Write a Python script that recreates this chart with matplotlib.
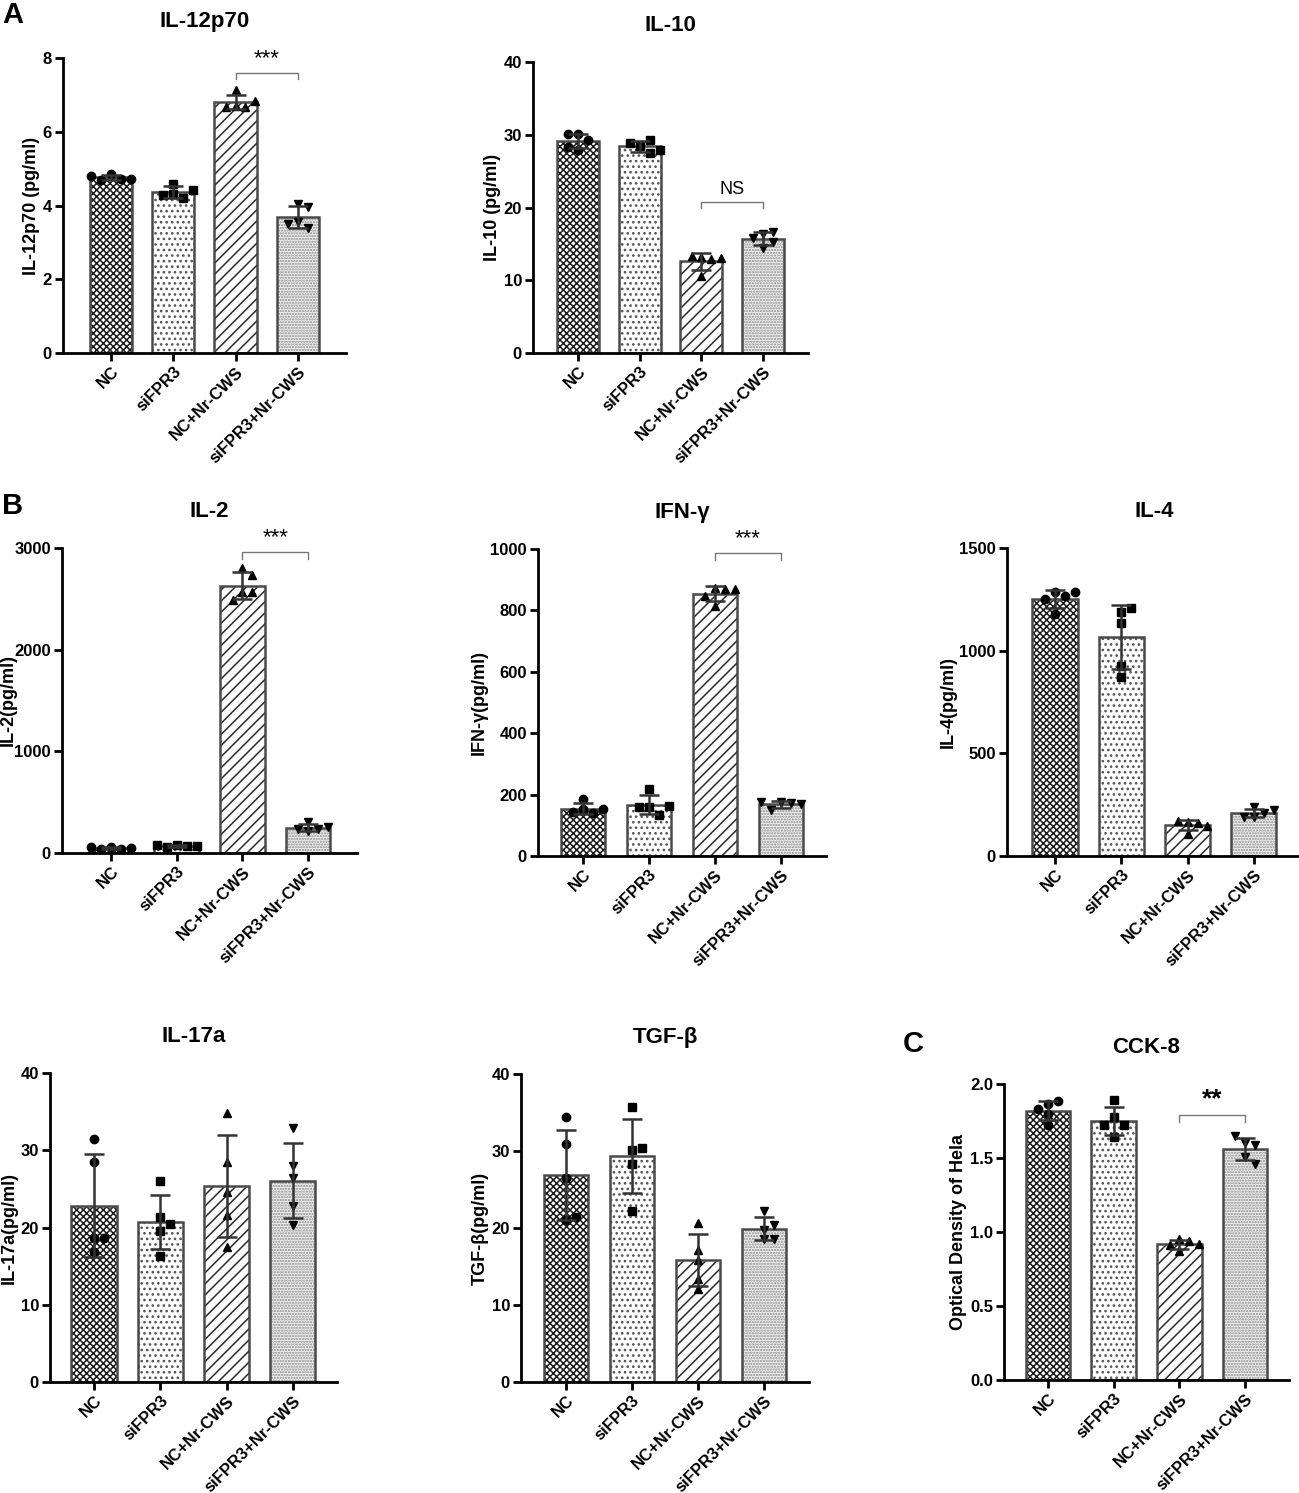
import matplotlib
matplotlib.use('Agg')
import matplotlib.pyplot as plt
from matplotlib.ticker import FormatStrFormatter
import numpy as np

plt.rcParams['font.family'] = ['Liberation Sans', 'DejaVu Sans']
plt.rcParams['font.weight'] = 'bold'
plt.rcParams['axes.labelweight'] = 'bold'
plt.rcParams['hatch.linewidth'] = 1.1

# groups
groups = ['NC', 'siFPR3', 'NC+Nr-CWS', 'siFPR3+Nr-CWS']

# individual points per group
il12p70 = [[4.86, 4.73, 4.70, 4.73, 4.81],
           [4.32, 4.20, 4.59, 4.29, 4.43],
           [6.71, 6.67, 7.12, 6.67, 6.84],
           [4.05, 3.95, 3.55, 3.40, 3.50]]
il10 = [[30.1, 29.3, 27.9, 28.3, 30.1],
        [28.5, 29.3, 28.9, 27.5, 27.9],
        [13.2, 12.9, 13.3, 13.0, 10.6],
        [16.4, 16.6, 14.4, 15.3, 15.8]]
il2 = [[55, 40, 35, 45, 55],
       [75, 65, 60, 65, 75],
       [2803, 2738, 2564, 2564, 2485],
       [302, 236, 213, 236, 252]]
ifng = [[152, 139, 185, 144, 152],
        [161, 134, 217, 161, 163],
        [872, 869, 847, 814, 869],
        [177, 172, 150, 169, 177]]
il4 = [[1286, 1264, 1253, 1286, 1180],
       [1186, 1208, 1134, 923, 874],
       [168, 160, 107, 172, 148],
       [237, 211, 189, 189, 224]]
il17a = [[31.4, 28.5, 18.7, 18.7, 16.8],
         [26.0, 21.3, 20.5, 19.5, 16.3],
         [34.8, 28.5, 24.6, 21.6, 17.5],
         [32.9, 27.9, 26.4, 22.8, 20.3]]
tgfb = [[34.4, 30.9, 26.5, 21.0, 21.4],
        [35.7, 30.1, 30.4, 28.3, 22.2],
        [20.7, 17.2, 15.9, 13.4, 12.1],
        [22.2, 19.8, 20.4, 18.6, 18.6]]
cck8 = [[1.865, 1.885, 1.83, 1.80, 1.72],
        [1.89, 1.78, 1.72, 1.72, 1.64],
        [0.95, 0.94, 0.91, 0.87, 0.92],
        [1.60, 1.59, 1.65, 1.51, 1.46]]

W, H = 1299, 1493
fig = plt.figure(figsize=(W / 100, H / 100), dpi=100)

markers = ['o', 's', '^', 'v']
# (hatch, hatch colour, face colour)
fills = [('xxxxx', '#1a1a1a', 'white'),
         ('...', '#555555', 'white'),
         ('///', '#2a2a2a', 'white'),
         ('......', '#8c8c8c', '#f0f0f0')]


def swarm_x(ax, i, vals, dist_px):
    # spread points sideways when they would overlap
    px_per_unit = ax.transData.transform((1, 0))[0] - ax.transData.transform((0, 0))[0]
    dx = dist_px * 1.1 / px_per_unit
    placed, xs = [], []
    for v in vals:
        for k in [0, 1, -1, 2, -2, 3, -3]:
            x = i + k * dx
            p = ax.transData.transform((x, v))
            if all(np.hypot(*(p - q)) >= dist_px for q in placed):
                break
        placed.append(p)
        xs.append(x)
    return xs


def panel(L, c0, s, ytop, y0, data, ymax, step, title, ylabel, fmt=None, sig=None, ylab_px=None):
    pad = (c0 - L) / s
    w = 3 * s + 2 * (c0 - L)
    ax = fig.add_axes([L / W, 1 - y0 / H, w / W, (y0 - ytop) / H])
    ax.set_xlim(-pad, 3 + pad)
    ax.set_ylim(0, ymax)
    means = [np.mean(d) for d in data]
    sds = [np.std(d, ddof=1) for d in data]
    for i, m in enumerate(means):
        h, hc, fc = fills[i]
        ax.bar(i, m, width=0.68, color=fc, hatch=h, edgecolor=hc, linewidth=0, zorder=1)
        ax.bar(i, m, width=0.68, fill=False, edgecolor='#4a4a4a', linewidth=1.8, zorder=2)
        xs = swarm_x(ax, i, data[i], 9)
        ax.plot(xs, data[i], ls='none', marker=markers[i], ms=6, color='black', zorder=3,
                clip_on=False)
        ax.errorbar(i, m, yerr=sds[i], fmt='none', ecolor='#333333', elinewidth=1.8,
                    capsize=7.5, capthick=1.8, zorder=4)
    for sp in ['top', 'right']:
        ax.spines[sp].set_visible(False)
    for sp in ['left', 'bottom']:
        ax.spines[sp].set_linewidth(2)
    ax.set_yticks(np.arange(0, ymax + step / 2, step))
    if fmt:
        ax.yaxis.set_major_formatter(FormatStrFormatter(fmt))
    ax.set_xticks(range(4))
    ax.set_xticklabels(groups, rotation=45, ha='right', rotation_mode='anchor')
    ax.tick_params(axis='both', direction='out', length=6, width=2, labelsize=12, pad=2)
    ax.set_ylabel(ylabel, fontsize=13, labelpad=2)
    if ylab_px is not None:
        ax.yaxis.set_label_coords((ylab_px - L) / w, 0.5)
    ax.set_title(title, fontsize=16, fontweight='bold', pad=22)
    if sig:
        text, frac, size, wt = sig
        yb = frac * ymax
        d = 0.022 * ymax
        ax.plot([2, 2, 3, 3], [yb - d, yb, yb, yb - d], color='#777777', lw=1, clip_on=False)
        ax.text(2.5, yb + 0.012 * ymax, text, ha='center', va='bottom', fontsize=size,
                fontweight=wt, clip_on=False)
    return ax


panel(63, 111, 62.3, 58, 353, il12p70, 8, 2, 'IL-12p70', 'IL-12p70 (pg/ml)',
      sig=('***', 0.95, 16, 'normal'))
panel(533, 578, 61.7, 62, 353, il10, 40, 10, 'IL-10', 'IL-10 (pg/ml)',
      sig=('NS', 0.52, 13, 'normal'))
panel(62, 111, 65.7, 548, 853, il2, 3000, 1000, 'IL-2', 'IL-2(pg/ml)',
      sig=('***', 0.986, 16, 'normal'), ylab_px=17)
panel(538, 583, 66, 549, 856, ifng, 1000, 200, 'IFN-γ', 'IFN-γ(pg/ml)',
      sig=('***', 0.986, 16, 'normal'))
panel(1007, 1055, 66.3, 548, 856, il4, 1500, 500, 'IL-4', 'IL-4(pg/ml)')
panel(50, 94, 66.3, 1073, 1382, il17a, 40, 10, 'IL-17a', 'IL-17a(pg/ml)')
panel(521, 566, 66, 1074, 1382, tgfb, 40, 10, 'TGF-β', 'TGF-β(pg/ml)')
panel(1004, 1048, 65.7, 1084, 1380, cck8, 2.0, 0.5, 'CCK-8', 'Optical Density of Hela',
      fmt='%.1f', sig=('**', 0.895, 19, 'bold'))

fig.text(2 / W, 1 - 15 / H, 'A', fontsize=21, fontweight='bold', va='center', ha='left')
fig.text(2 / W, 1 - 506 / H, 'B', fontsize=21, fontweight='bold', va='center', ha='left')
fig.text(903 / W, 1 - 1044 / H, 'C', fontsize=21, fontweight='bold', va='center', ha='left')

fig.savefig('out.png', dpi=100, facecolor='white')
